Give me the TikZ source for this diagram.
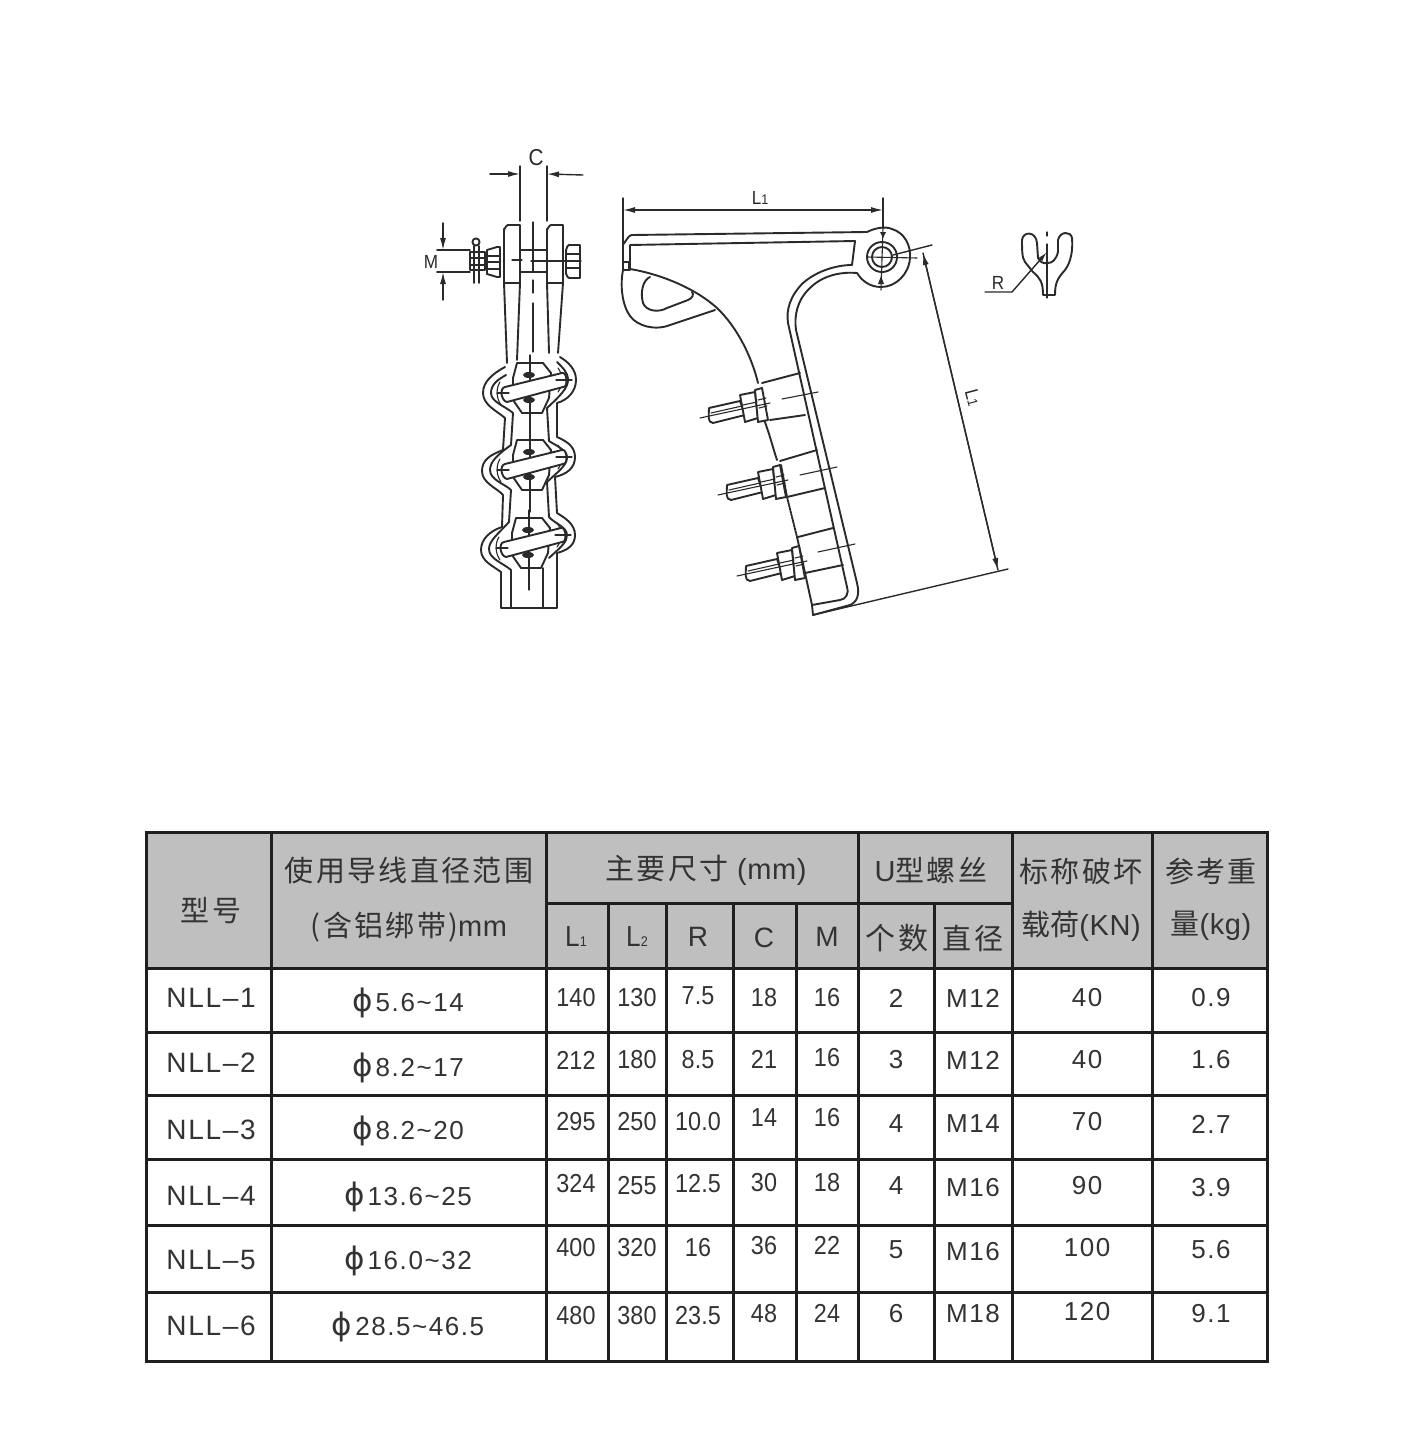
\documentclass[tikz,border=0pt]{standalone}
\usepackage{fontspec}
\setmainfont{Liberation Sans}
\newfontfamily\cjk[LetterSpace=8]{Noto Sans CJK SC}
\newfontfamily\cjktight{Noto Sans CJK SC}
\newfontfamily\narrowf[FakeStretch=0.9]{Liberation Sans}
\newfontfamily\widef[LetterSpace=6]{Liberation Sans}
\newfontfamily\mmf[LetterSpace=2]{Liberation Sans}
\newfontfamily\phif{DejaVu Sans}
\definecolor{hdr}{HTML}{BFBFBF}
\definecolor{ink}{HTML}{2A2A2A}
\definecolor{txt}{HTML}{333333}
\newcommand{\fs}[1]{\fontsize{#1}{#1}\selectfont}
\newcommand{\subs}[1]{{\fs{14}#1}}
\newcommand{\dia}[1]{{\phif\fs{31}ϕ}\hspace{3pt}#1}
\tikzset{
 grid/.style={line width=3pt,black!88},
 part/.style={line width=1.9pt,ink,line join=round,line cap=round},
 thin part/.style={line width=1.1pt,ink,line cap=round},
 dim/.style={line width=1.4pt,ink,line cap=round},
 dimarrow/.style={dim,-{Latex[length=12pt,width=6pt]}},
 hd/.style={inner sep=0pt,text=txt,font=\cjk\fs{29}},
 hdl/.style={inner sep=0pt,text=txt,font=\widef\fs{28}},
 rowname/.style={inner sep=0pt,text=txt,font=\widef\fs{28}},
 val/.style={inner sep=0pt,text=txt,font=\widef\fs{26}},
 num/.style={inner sep=0pt,text=txt,font=\narrowf\fs{26}},
 dimtext/.style={inner sep=0pt,text=ink,font=\narrowf\fs{19}},
}
\usetikzlibrary{arrows.meta}
\begin{document}
\begin{tikzpicture}[x=1pt,y=-1pt]
\useasboundingbox (0,0) rectangle (1409,1442);
\fill[white] (0,0) rectangle (1409,1442);

%%% ---------- left view ----------
\node[dimtext,font=\narrowf\fs{23}] (lc) at (536,158) {C};
\draw[dim] (520,166)--(520,221) (547,166)--(547,221);
\draw[dimarrow] (490,174)--(520,174);
\draw[dimarrow] (583,175)--(547,174);
% plates
\draw[part] (504,283)--(504,229) to[out=-90,in=180] (508,225)--(520,225)--(520,283)--cycle;
\draw[part] (547,283)--(547,229) to[out=-90,in=180] (551,225)--(563,225)--(563,283)--cycle;
\draw[part] (504,283)--(507,363) (520,283)--(517,360);
\draw[part] (547,283)--(549,353) (563,283)--(558,353);
\draw[part] (520,250)--(547,250) (520,272)--(547,272);
\draw[thin part] (533,222)--(533,272);
\draw[thin part] (533,280)--(533,293) (533,303)--(533,352);
\draw[thin part] (512,260)--(522,260) (531,261)--(581,261);
% bolt and nuts
\draw[part] (437,250)--(470,250) (437,272)--(470,272);
\draw[part] (470,252) rectangle (485,270);
\draw[thin part] (470,258)--(485,258) (470,265)--(485,265);
\draw[part] (487,250)--(497,247)--(500,247)--(500,277)--(497,277)--(487,274)--cycle;
\draw[thin part] (487,256)--(500,256) (487,262)--(500,262) (487,269)--(500,269);
\draw[part] (476,242) circle (3.6pt);
\draw[part] (474,246)--(474,283) (479,246)--(479,283);
\draw[part] (566,250)--(566,274) to[out=90,in=180] (569,278)--(580,278)--(580,245)--(569,245) to[out=180,in=-90] (566,250);
\draw[thin part] (566,254)--(580,254) (566,268)--(580,268);
% M dimension
\draw[dimarrow] (443,223)--(443,250);
\draw[dimarrow] (443,300)--(443,272);
\node[dimtext] (lm) at (431,262) {M};
% body
\draw[part] (505,367) .. controls (492,374) and (483,382) .. (483,393)
  .. controls (483,405) and (497,411) .. (505,418) -- (503,450)
  .. controls (490,455) and (482,460) .. (482,471)
  .. controls (482,483) and (497,488) .. (503,495) -- (502,527)
  .. controls (490,531) and (481,539) .. (481,550)
  .. controls (481,561) and (493,566) .. (501,572) -- (501,608) -- (557,608) -- (557,553)
  .. controls (568,550) and (575,545) .. (575,535)
  .. controls (575,524) and (565,518) .. (557,513) -- (555,477)
  .. controls (567,474) and (575,468) .. (575,457)
  .. controls (575,446) and (566,441) .. (557,437) -- (557,403)
  .. controls (568,400) and (576,391) .. (576,380)
  .. controls (576,369) and (568,362) .. (560,357);
\draw[part] (506,375) .. controls (497,380) and (491,385) .. (491,393)
  .. controls (491,402) and (505,406) .. (513,413) -- (511,445)
  .. controls (497,455) and (490,462) .. (490,470)
  .. controls (490,480) and (505,484) .. (511,490) -- (509,522)
  .. controls (497,535) and (489,541) .. (489,549)
  .. controls (489,559) and (503,563) .. (511,570) -- (511,608);
\draw[part] (543,608) -- (543,568) (549,558)
  .. controls (562,546) and (567,542) .. (567,535)
  .. controls (567,527) and (554,523) .. (549,517) -- (547,482)
  .. controls (560,470) and (567,465) .. (567,457)
  .. controls (567,450) and (555,445) .. (549,441) -- (547,408)
  .. controls (560,396) and (568,388) .. (568,380)
  .. controls (568,372) and (562,367) .. (557,362);
\foreach \dy/\dx in {0/0,77/0,155/-1}{
 \begin{scope}[shift={(\dx,\dy)}]
  \draw[thin part] (500,382) .. controls (496,388) and (496,398) .. (501,405);
  \draw[thin part] (558,368) .. controls (563,374) and (563,386) .. (558,392);
  \draw[part,fill=white] (517,363)--(543,363)--(551,373)--(549,398)--(542,413)--(522,413)--(513,400)--(513,378)--cycle;
  \draw[thin part] (530,355)--(530,435);
  \draw[part,fill=white] (505,387)--(562,373) to[out=20,in=-10] (563,387)--(507,402) to[out=170,in=190] (505,387);
  \draw[thin part] (497,393)--(509,393) (556,380)--(572,380);
  \fill[ink] (529,375) ellipse (6pt and 3pt);
  \fill[ink] (529,400) ellipse (6pt and 3pt);
 \end{scope}}

%%% ---------- right view ----------
\node[dimtext] (ll) at (760,198) {L\subs{1}};
\draw[dim] (623,198)--(623,243) (883,198)--(883,228);
\draw[dimarrow] (650,210)--(623,210);
\draw[dimarrow] (856,210)--(883,210);
\draw[dim] (650,210)--(856,210);
% top arm and hook
\draw[part] (623,270)--(623,243) to[out=-90,in=180] (632,235)--(867,232)
  .. controls (875,228) and (885,226) .. (892,229)
  .. controls (905,233) and (911,246) .. (910,258)
  .. controls (909,274) and (896,287) .. (881,287)
  .. controls (870,287) and (862,281) .. (857,273)
  .. controls (846,272) and (825,273) .. (810,288)
  .. controls (797,300) and (794,316) .. (796,330)
  -- (857,583) .. controls (860,595) and (857,602) .. (850,605) -- (813,615) -- (812,605) -- (805,573);
\draw[part] (630,270)--(630,245)--(855,241)--(852,265)
  .. controls (838,265) and (818,270) .. (803,283)
  .. controls (790,296) and (786,310) .. (788,323)
  -- (847,587) .. controls (849,594) and (846,599) .. (840,600) -- (812,605);
\draw[thin part] (623,262) rectangle (629,270);
\draw[part] (623,270) .. controls (620,285) and (622,305) .. (630,316)
  .. controls (637,326) and (655,331) .. (670,325) -- (715,310);
\draw[part] (630,269) .. controls (660,274) and (695,288) .. (717,308)
  .. controls (738,328) and (752,358) .. (758,383);
\draw[part] (762,415) .. controls (768,428) and (772,445) .. (777,460);
\draw[part,densely dotted] (787,497) -- (797,537);
\draw[part] (781,465) -- (787,497);
\draw[part] (805,573) -- (797,537);
% slot in the hook
\draw[part] (650,277) .. controls (643,280) and (640,292) .. (643,303)
  .. controls (646,311) and (658,313) .. (667,308) -- (688,300)
  .. controls (693,298) and (694,294) .. (692,292);
% eye
\draw[part] (882,257) circle (15pt);
\draw[part] (882,257) circle (10pt);
\draw[thin part] (883,228)--(881,290) (867,257)--(917,258);
\fill[ink] (883,238)--(880,232)--(886,232)--cycle (881,276)--(878,284)--(884,284)--cycle;
% block lines
\foreach \ax/\ay/\bx/\by/\cx/\cy/\dx/\dy/\ex/\ey/\fx/\fy in {
 762/383/800/373/770/420/805/415/782/399/818/392,
 780/461/817/450/787/497/825/488/800/475/837/467,
 798/537/833/528/805/573/843/565/818/552/855/544}{
 \draw[part] (\ax,\ay)--(\bx,\by) (\cx,\cy)--(\dx,\dy);
 \draw[thin part] (\ex,\ey)--(\fx,\fy);
}
% studs
\foreach \sx/\sy in {0/0,18/77,37/158}{
 \begin{scope}[shift={(\sx,\sy)}]
  \draw[part,fill=white] (709,408)--(740,401)--(745,415)--(713,423) to[out=180,in=-90] (709,408);
  \draw[part,fill=white] (740,395)--(755,392)--(758,418)--(745,422)--cycle;
  \draw[part,fill=white] (755,390)--(762,388)--(768,420)--(758,422)--cycle;
  \draw[thin part] (700,418)--(770,403) (711,413)--(742,406) (743,405)--(757,402) (758,400)--(766,398) (759,408)--(767,406);
 \end{scope}}
% L2 dimension
\coordinate (dimtop) at (923,253);
\coordinate (dimbot) at (998,570);
\draw[dim] (813,615)--(1008,569);
\draw[dim] (893,255)--(932,245);
\draw[dim,-{Latex[length=12pt,width=6pt]}] (dimbot)--(dimtop);
\draw[dim,-{Latex[length=12pt,width=6pt]}] (dimtop)--(dimbot);
\node[dimtext,rotate=-75] (l2) at (973,398) {L\subs{1}};

%%% ---------- fork sketch ----------
\draw[part] (1022,240) .. controls (1022,250) and (1022,258) .. (1025,262)
  -- (1033,272) .. controls (1040,278) and (1043,282) .. (1043,295) -- (1055,295)
  .. controls (1055,282) and (1058,278) .. (1065,270)
  .. controls (1071,262) and (1073,250) .. (1072,238)
  .. controls (1071,231) and (1060,231) .. (1058,240)
  -- (1058,252) .. controls (1056,260) and (1052,263) .. (1048,263)
  .. controls (1043,264) and (1040,262) .. (1038,258) -- (1037,243)
  .. controls (1036,231) and (1023,231) .. (1022,240);
\draw[thin part] (1047,232)--(1047,236) (1047,244)--(1047,298);
\node[dimtext] (lr) at (998,283) {R};
\draw[dim,-{Latex[length=10pt,width=5pt]}] (985,292)--(1012,292)--(1047,252);

%%% ---------- table ----------
\fill[hdr] (146,832) rectangle (1267,968);
\fill[white] (146,968) rectangle (1267,1361);
\foreach \x in {146,271,546,1012,1152,1267} \draw[grid] (\x,832)--(\x,1361);
\foreach \x in {608,666,733,796,934} \draw[grid] (\x,903)--(\x,1361);
\draw[grid] (858,832)--(858,1361);
\foreach \y in {968,1032,1095,1159,1225,1292} \draw[grid] (146,\y)--(1267,\y);
\draw[grid] (144.5,832)--(1268.5,832) (144.5,1361)--(1268.5,1361);
\draw[grid] (546,903)--(1012,903);

% header
\node[hd] (h1) at (211,911) {型号};
\node[hd] (h2) at (409,871) {使用导线直径范围};
\node[hd] (h3) at (409,927) {(含铝绑带)\mmf mm};
\node[hd] (h4) at (706,870) {主要尺寸 \mmf(mm)};
\node[hd] (h5) at (931,870) {{\widef U}型螺丝};
\node[hd] (h6) at (1081,871) {标称破坏};
\node[hd,font=\cjktight\fs{29}] (h7) at (1081,926) {载荷{\mmf(KN)}};
\node[hd] (h8) at (1211,871) {参考重};
\node[hd,font=\cjktight\fs{29}] (h9) at (1211,926) {量{\mmf(kg)}};
\node[hdl,font=\narrowf\fs{29}] (hL1) at (576,937) {L\subs{1}};
\node[hdl,font=\narrowf\fs{29}] (hL2) at (637,937) {L\subs{2}};
\node[hdl] (hR) at (698,937) {R};
\node[hdl] (hC) at (764,938) {C};
\node[hdl] (hM) at (827,937) {M};
\node[hd,font=\cjk\fs{30}] (hn) at (897,938) {个数};
\node[hd] (hd) at (973,938) {直径};

% rows
\foreach \t/\y [count=\i] in {1/998,2/1063,3/1130,4/1196,5/1260,6/1326}
  \node[rowname] (nm\i) at (211,\y) {NLL–\t};
\foreach \t/\y [count=\i] in {5.6\string~14/1003,8.2\string~17/1068,8.2\string~20/1131,13.6\string~25/1197,16.0\string~32/1261,28.5\string~46.5/1327}
  \node[val] (dia\i) at (408,\y) {\dia{\t}};
\foreach \t/\y [count=\i] in {140/998,212/1060,295/1122,324/1184,400/1248,480/1316}
  \node[num] (la\i) at (576,\y) {\t};
\foreach \t/\y [count=\i] in {130/998,180/1060,250/1122,255/1186,320/1248,380/1316}
  \node[num] (lb\i) at (637,\y) {\t};
\foreach \t/\y [count=\i] in {7.5/996,8.5/1060,10.0/1122,12.5/1184,16/1248,23.5/1316}
  \node[num] (r\i) at (698,\y) {\t};
\foreach \t/\y [count=\i] in {18/998,21/1059,14/1118,30/1183,36/1246,48/1314}
  \node[num] (c\i) at (764,\y) {\t};
\foreach \t/\y [count=\i] in {16/998,16/1058,16/1118,18/1183,22/1245,24/1313}
  \node[num] (m\i) at (827,\y) {\t};
\foreach \t/\y [count=\i] in {2/998,3/1060,4/1124,4/1186,5/1250,6/1314}
  \node[val] (n\i) at (896,\y) {\t};
\foreach \t/\y [count=\i] in {M12/998,M12/1060,M14/1124,M16/1188,M16/1252,M18/1314}
  \node[val] (d\i) at (973,\y) {\t};
\foreach \t/\y [count=\i] in {40/998,40/1060,70/1122,90/1186,100/1248,120/1312}
  \node[val] (k\i) at (1087,\y) {\t};
\foreach \t/\y [count=\i] in {0.9/998,1.6/1060,2.7/1124,3.9/1188,5.6/1250,9.1/1314}
  \node[val] (w\i) at (1211,\y) {\t};
\end{tikzpicture}
\end{document}
